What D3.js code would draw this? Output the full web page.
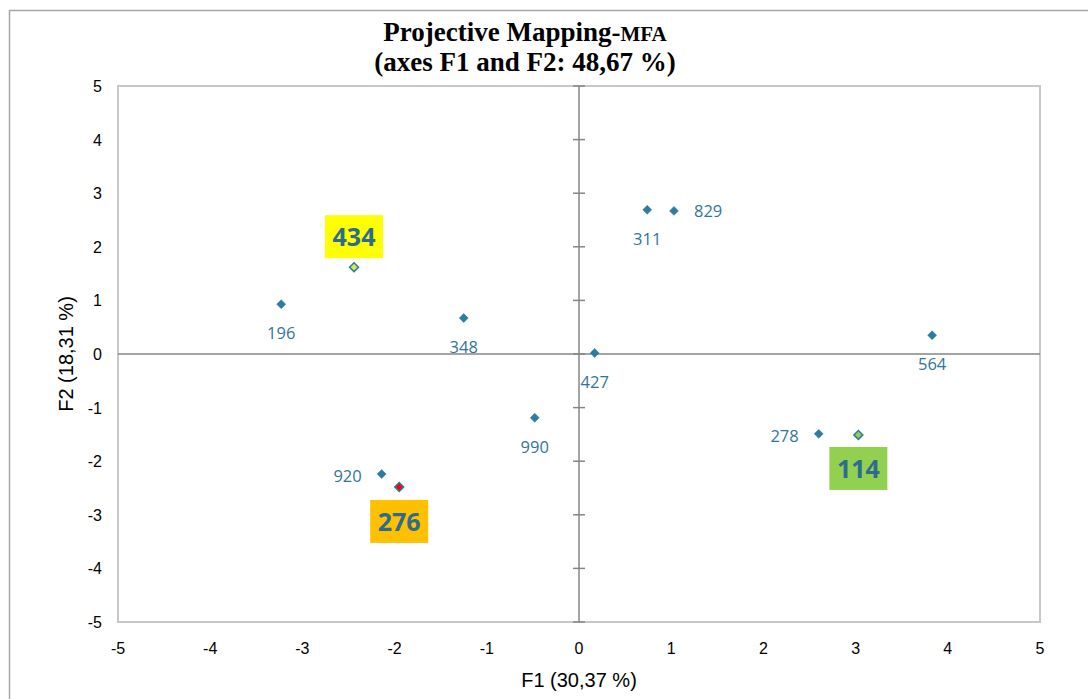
<!DOCTYPE html>
<html><head><meta charset="utf-8">
<script src="https://cdn.jsdelivr.net/npm/d3@7"></script>
<style>body{margin:0;background:#fff}svg{display:block}</style>
</head><body>
<svg id="c" width="1088" height="699"></svg>
<script>
const labels = ["196","434","348","311","829","564","427","990","920","276","278","114"];
const f1 = [-3.23,-2.44,-1.25,0.74,1.03,3.83,0.17,-0.48,-2.14,-1.95,2.60,3.03];
const f2 = [0.93,1.62,0.67,2.69,2.67,0.35,0.02,-1.19,-2.24,-2.48,-1.49,-1.51];
const labelPos = ["below","box","below","below","right","below","below","below","left","box","left","box"];
const highlight = {"434":{fill:"#ffff00",marker:"#d9e84a",dx:0,dy:-30},"276":{fill:"#ffc000",marker:"#ff0000",dx:0,dy:35},"114":{fill:"#92d050",marker:"#92d050",dx:0,dy:34}};
const xTicks = [-5,-4,-3,-2,-1,0,1,2,3,4,5];
const yTicks = [-5,-4,-3,-2,-1,0,1,2,3,4,5];

const svg = d3.select("#c");
const L=118,R=1040,T=86,B=622;
const x = d3.scaleLinear().domain([-5,5]).range([L,R]);
const y = d3.scaleLinear().domain([-5,5]).range([B,T]);

// outer frame
svg.append("rect").attr("x",9.5).attr("y",10.5).attr("width",1090).attr("height",700)
  .attr("fill","none").attr("stroke","#a6a6a6").attr("stroke-width",1.5);
// plot area border
svg.append("rect").attr("x",L).attr("y",T).attr("width",R-L).attr("height",B-T)
  .attr("fill","none").attr("stroke","#c8c8c8").attr("stroke-width",2);

// title
const title = svg.append("text").attr("x",525).attr("y",41).attr("text-anchor","middle")
  .attr("font-family","'Liberation Serif','Times New Roman',serif").attr("font-weight","bold").attr("font-size",27).attr("fill","#000");
title.append("tspan").text("Projective Mapping-");
title.append("tspan").attr("font-size",21).text("MFA");
svg.append("text").attr("x",525).attr("y",71).attr("text-anchor","middle")
  .attr("font-family","'Liberation Serif','Times New Roman',serif").attr("font-weight","bold").attr("font-size",27).attr("fill","#000")
  .text("(axes F1 and F2: 48,67 %)");

// axes lines through origin
svg.append("line").attr("x1",L).attr("x2",R).attr("y1",y(0)).attr("y2",y(0)).attr("stroke","#868686").attr("stroke-width",1.5);
svg.append("line").attr("x1",x(0)).attr("x2",x(0)).attr("y1",T).attr("y2",B).attr("stroke","#868686").attr("stroke-width",1.5);
// tick crosses on vertical axis
svg.selectAll(".yt").data(yTicks).enter().append("line")
  .attr("x1",x(0)-6).attr("x2",x(0)+6).attr("y1",d=>y(d)).attr("y2",d=>y(d))
  .attr("stroke","#868686").attr("stroke-width",1.5);

// tick labels
svg.selectAll(".xl").data(xTicks).enter().append("text")
  .attr("x",d=>x(d)).attr("y",B+32).attr("text-anchor","middle")
  .attr("font-family","'Liberation Sans',Arial,sans-serif").attr("font-size",16).attr("fill","#000")
  .text(d=>d);
svg.selectAll(".yl").data(yTicks).enter().append("text")
  .attr("x",L-16).attr("y",d=>y(d)+6).attr("text-anchor","end")
  .attr("font-family","'Liberation Sans',Arial,sans-serif").attr("font-size",16).attr("fill","#000")
  .text(d=>d);

// axis titles
svg.append("text").attr("x",x(0)).attr("y",687).attr("text-anchor","middle")
  .attr("font-family","'Liberation Sans',Arial,sans-serif").attr("font-size",20).attr("fill","#000").text("F1 (30,37 %)");
svg.append("text").attr("transform",`translate(73,${y(0)}) rotate(-90)`).attr("text-anchor","middle")
  .attr("font-family","'Liberation Sans',Arial,sans-serif").attr("font-size",20).attr("fill","#000").text("F2 (18,31 %)");

const data = labels.map((l,i)=>({l,x:f1[i],y:f2[i],p:labelPos[i]}));
const col = "#2c7ba0", txt="#31749b";

// highlight boxes
data.filter(d=>d.p==="box").forEach(d=>{
  const h = highlight[d.l];
  const cx = x(d.x)+h.dx, cy = y(d.y)+h.dy;
  svg.append("rect").attr("x",cx-29).attr("y",cy-22).attr("width",58).attr("height",43).attr("fill",h.fill);
  svg.append("text").attr("x",cx).attr("y",cy+9).attr("text-anchor","middle")
    .attr("font-family","'Open Sans','Noto Sans',sans-serif").attr("font-weight","bold").attr("font-size",25).attr("fill","#2e6b91").text(d.l);
});

// markers
svg.selectAll(".pt").data(data).enter().append("path")
  .attr("d", d3.symbol().type(d3.symbolSquare).size(40))
  .attr("transform",d=>`translate(${x(d.x)},${y(d.y)}) rotate(45)`)
  .attr("fill",d=>highlight[d.l]?highlight[d.l].marker:col)
  .attr("stroke",col).attr("stroke-width",d=>highlight[d.l]?1.5:0.5);

// plain labels
data.filter(d=>d.p!=="box").forEach(d=>{
  let tx=x(d.x), ty=y(d.y), anchor="middle";
  if(d.p==="below"){ty+=35;}
  if(d.p==="right"){tx+=20;ty+=6;anchor="start";}
  if(d.p==="left"){tx-=20;ty+=8;anchor="end";}
  svg.append("text").attr("x",tx).attr("y",ty).attr("text-anchor",anchor)
    .attr("font-family","'Open Sans','Noto Sans',sans-serif").attr("font-size",16.5).attr("fill",txt).text(d.l);
});
</script>
</body></html>
